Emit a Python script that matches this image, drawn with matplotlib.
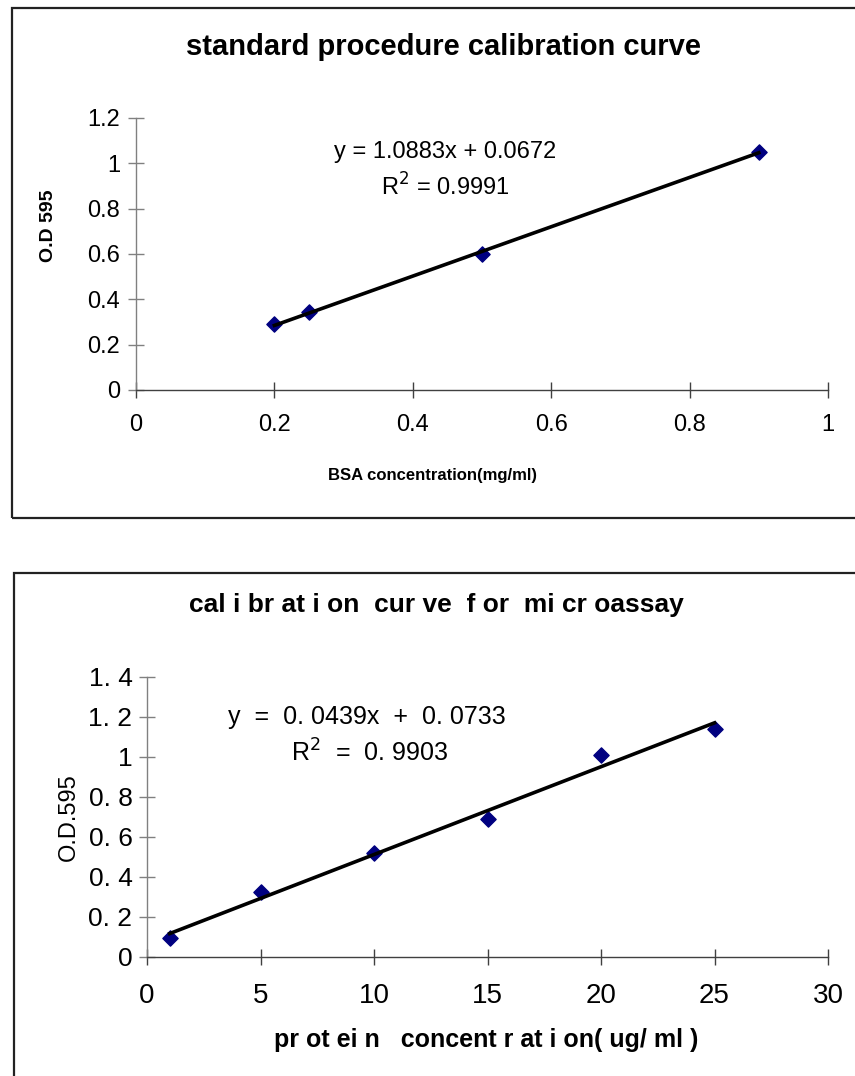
import matplotlib
matplotlib.use("Agg")
import matplotlib.pyplot as plt
import numpy as np
from matplotlib.patches import Rectangle

plt.rcParams['font.family'] = ['Liberation Sans', 'DejaVu Sans']

# Data - standard procedure
bsa_conc = [0.2, 0.25, 0.5, 0.9]
bsa_od = [0.29, 0.345, 0.60, 1.05]
bsa_slope, bsa_int = 1.0883, 0.0672
bsa_xticks = [0, 0.2, 0.4, 0.6, 0.8, 1]
bsa_xlabels = ["0", "0.2", "0.4", "0.6", "0.8", "1"]
bsa_yticks = [0, 0.2, 0.4, 0.6, 0.8, 1.0, 1.2]
bsa_ylabels = ["0", "0.2", "0.4", "0.6", "0.8", "1", "1.2"]

# Data - microassay
micro_conc = [1, 5, 10, 15, 20, 25]
micro_od = [0.095, 0.325, 0.52, 0.69, 1.01, 1.14]
micro_slope, micro_int = 0.0439, 0.0733
micro_xticks = [0, 5, 10, 15, 20, 25, 30]
micro_xlabels = ["0", "5", "10", "15", "20", "25", "30"]
micro_yticks = [0, 0.2, 0.4, 0.6, 0.8, 1.0, 1.2, 1.4]
micro_ylabels = ["0", "0. 2", "0. 4", "0. 6", "0. 8", "1", "1. 2", "1. 4"]

W, H = 855, 1076
fig = plt.figure(figsize=(W / 100, H / 100), dpi=100)

# outer boxes (pixel -> figure fraction)
def box(x0, y0, x1, y1):
    fig.patches.append(Rectangle((x0 / W, 1 - y1 / H), (x1 - x0) / W, (y1 - y0) / H,
                                 transform=fig.transFigure, fill=False,
                                 edgecolor='#222222', linewidth=1.6))
box(12, 8, 870, 518)
box(14, 573, 870, 1100)


def style_axes(ax):
    for s in ['top', 'right']:
        ax.spines[s].set_visible(False)
    ax.spines['left'].set_color('#808080')
    ax.spines['bottom'].set_color('#404040')
    ax.spines['left'].set_linewidth(1.0)
    ax.spines['bottom'].set_linewidth(1.0)
    ax.tick_params(axis='y', direction='inout', length=11, color='#808080', width=1)
    ax.tick_params(axis='x', direction='inout', length=11, color='#404040', width=1)


# top chart
ax1 = fig.add_axes([136 / W, 1 - 390 / H, 692 / W, 272 / H])
style_axes(ax1)
ax1.set_xlim(0, 1)
ax1.set_ylim(0, 1.2)
ax1.set_xticks(bsa_xticks, bsa_xlabels, fontsize=17)
ax1.set_yticks(bsa_yticks, bsa_ylabels, fontsize=17)
ax1.tick_params(axis='x', pad=12)
ax1.tick_params(axis='y', pad=6)
ax1.scatter(bsa_conc, bsa_od, marker='D', s=60, color='#000080', zorder=3, clip_on=False)
xs = np.array([min(bsa_conc), max(bsa_conc)])
ax1.plot(xs, bsa_slope * xs + bsa_int, color='black', linewidth=2.6, zorder=4)
ax1.text(0.447, 1.05, "y = 1.0883x + 0.0672", fontsize=17, ha='center', va='center')
ax1.text(0.447, 0.895, "R$^2$ = 0.9991", fontsize=17, ha='center', va='center')
ax1.set_xlabel("BSA concentration(mg/ml)", fontsize=12, fontweight='bold')
ax1.xaxis.set_label_coords((432 - 136) / 692, -(468 - 390) / 272)
ax1.set_ylabel("O.D 595", fontsize=14, fontweight='bold')
ax1.yaxis.set_label_coords(-(136 - 57) / 692, (390 - 226) / 272)
fig.text(444 / W, 1 - 47 / H, "standard procedure calibration curve", fontsize=21,
         fontweight='bold', ha='center', va='center')

# bottom chart
ax2 = fig.add_axes([147 / W, 1 - 957 / H, 681 / W, 280 / H])
style_axes(ax2)
ax2.set_xlim(0, 30)
ax2.set_ylim(0, 1.4)
ax2.set_xticks(micro_xticks, micro_xlabels, fontsize=20)
ax2.set_yticks(micro_yticks, micro_ylabels, fontsize=19)
ax2.tick_params(axis='x', pad=13)
ax2.tick_params(axis='y', pad=5)
ax2.scatter(micro_conc, micro_od, marker='D', s=60, color='#000080', zorder=3, clip_on=False)
xs = np.array([min(micro_conc), max(micro_conc)])
ax2.plot(xs, micro_slope * xs + micro_int, color='black', linewidth=2.6, zorder=4)
ax2.text(9.7, 1.2, "y  =  0. 0439x  +  0. 0733", fontsize=18, ha='center', va='center')
ax2.text(9.8, 1.02, "R$^2$  =  0. 9903", fontsize=18, ha='center', va='center')
ax2.set_xlabel("pr ot ei n   concent r at i on( ug/ ml )", fontsize=18, fontweight='bold')
ax2.xaxis.set_label_coords((486 - 147) / 681, -(1028 - 957) / 280)
ax2.set_ylabel("O.D.595", fontsize=17)
ax2.yaxis.set_label_coords(-(147 - 80) / 681, (957 - 817) / 280)
fig.text(436 / W, 1 - 605 / H, "cal i br at i on  cur ve  f or  mi cr oassay", fontsize=19,
         fontweight='bold', ha='center', va='center')

fig.savefig("out.png", dpi=100)
